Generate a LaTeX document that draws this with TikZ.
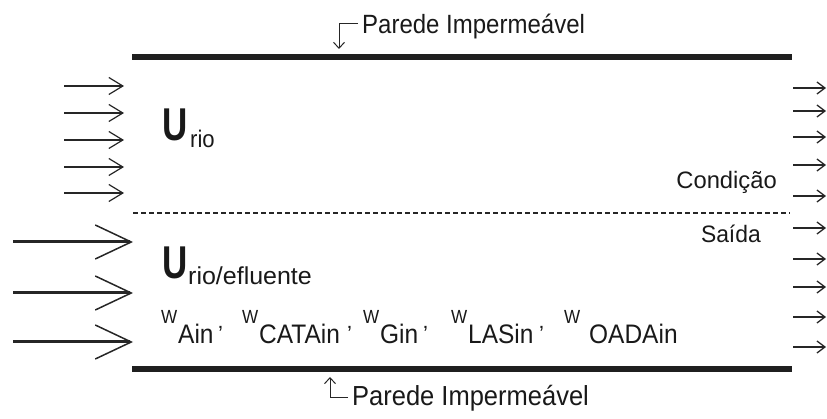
\documentclass[tikz,border=0pt]{standalone}
\usepackage{fontspec}
\setmainfont{Liberation Sans}
\usetikzlibrary{arrows.meta}

\begin{document}
\begin{tikzpicture}[x=1pt,y=-1pt,
  wall/.style={line width=6.5pt, draw=black!88},
  divider/.style={line width=1.2pt, draw=black!85, dash pattern=on 5pt off 3pt},
  inthin/.style={line width=1.2pt, draw=black!85,
    -{Straight Barb[length=14pt,width=17pt,line width=1.2pt]}},
  inthick/.style={line width=3pt, draw=black!85,
    -{Straight Barb[length=36pt,width=34pt,line width=1.5pt]}},
  outarr/.style={line width=1.3pt, draw=black!85,
    -{Straight Barb[length=8pt,width=12pt,line width=1.3pt]}},
  callout/.style={line width=1pt, draw=black!85,
    -{Straight Barb[length=6pt,width=11pt,line width=1pt]}},
  lbl/.style={inner sep=0pt, anchor=base west, text=black!90},
  lblr/.style={inner sep=0pt, anchor=base east, text=black!90},
  sup/.style={lbl, font=\fontsize{19}{21}\selectfont, xscale=0.9},
  comma/.style={lbl, font=\fontsize{22}{24}\selectfont},
  subs/.style={lbl, font=\fontsize{25.5}{28}\selectfont, xscale=0.96, yscale=1.05},
]
\useasboundingbox (0,0) rectangle (827,419);

% impermeable walls
\coordinate (tl) at (132,57);  \coordinate (tr) at (792,57);
\coordinate (bl) at (132,369); \coordinate (br) at (792,369);
\draw[wall] (tl) -- (tr);
\draw[wall] (bl) -- (br);

% interface between river and effluent streams
\coordinate (dl) at (133,213); \coordinate (dr) at (790,213);
\draw[divider] (dl) -- (dr);

% wall labels
\node[lbl, font=\fontsize{24}{28}\selectfont, yscale=1.1] (ptop) at (362,34) {Parede Impermeável};
\coordinate (tk) at (358,24); \coordinate (tw) at (339,49);
\draw[callout] (tk) -| (tw);

\node[lbl, font=\fontsize{25.5}{30}\selectfont, yscale=1.08] (pbot) at (352,406) {Parede Impermeável};
\coordinate (bk) at (348,397); \coordinate (bw) at (330,377);
\draw[callout] (bk) -| (bw);

% river inflow
\foreach \y [count=\i] in {86,113,140,167,193} {
  \coordinate (ua\i) at (64,\y); \coordinate (ub\i) at (124,\y);
  \draw[inthin] (ua\i) -- (ub\i);
}
% river + effluent inflow
\foreach \y [count=\i] in {242,293,342} {
  \coordinate (ea\i) at (13,\y); \coordinate (eb\i) at (133,\y);
  \draw[inthick] (ea\i) -- (eb\i);
}
% outflow
\foreach \y [count=\i] in {88,111,137,165,196,228,259,287,317,347} {
  \coordinate (oa\i) at (793,\y); \coordinate (ob\i) at (826,\y);
  \draw[outarr] (oa\i) -- (ob\i);
}

% velocities
\node[lbl, font=\fontsize{46}{50}\bfseries, xscale=0.76] (u1) at (162,141) {U};
\node[lbl, font=\fontsize{24}{26}\selectfont, xscale=0.92] (u1s) at (190,148) {rio};
\node[lbl, font=\fontsize{46}{50}\bfseries, xscale=0.76] (u2) at (162,279) {U};
\node[lbl, font=\fontsize{24.5}{27}\selectfont, xscale=1.02] (u2s) at (188,285) {rio/efluente};

% inflow concentrations
\node[sup] (w1) at (161,324) {W};  \node[subs] (s1) at (178,344) {Ain};
\node[comma] (c1) at (218,342) {'};
\node[sup] (w2) at (242,324) {W};  \node[subs] (s2) at (259,344) {CATAin};
\node[comma] (c2) at (347,342) {'};
\node[sup] (w3) at (363,324) {W};  \node[subs] (s3) at (380,344) {Gin};
\node[comma] (c3) at (423,342) {'};
\node[sup] (w4) at (451,324) {W};  \node[subs] (s4) at (468,344) {LASin};
\node[comma] (c4) at (539,342) {'};
\node[sup] (w5) at (564,324) {W};  \node[subs] (s5) at (589,344) {OADAin};

% outlet condition
\node[lblr, font=\fontsize{22}{26}\selectfont, xscale=1.08, yscale=1.08] (cond) at (777,189) {Condição};
\node[lblr, font=\fontsize{22}{26}\selectfont, xscale=1.04, yscale=1.08] (said) at (761,243) {Saída};
\end{tikzpicture}
\end{document}
